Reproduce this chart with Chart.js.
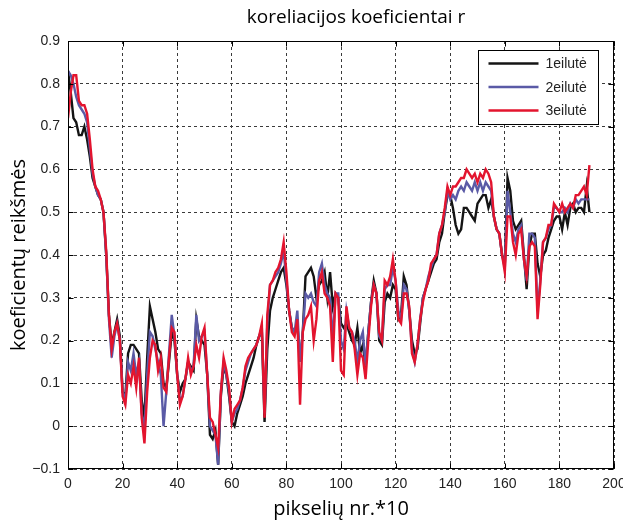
<!DOCTYPE html>
<html>
<head>
<meta charset="utf-8">
<script src="https://cdn.jsdelivr.net/npm/chart.js@4.4.1/dist/chart.umd.min.js"></script>
<style>
  html, body { margin: 0; padding: 0; background: #fff; }
  #wrap { width: 623px; height: 527px; }
</style>
</head>
<body>
<div id="wrap"><canvas id="corrChart" width="623" height="527"></canvas></div>
<script>
// pixel index (x10), one sample per unit
const pixelNr = Array.from({ length: 192 }, (_, i) => i);

const xTicks = [0, 20, 40, 60, 80, 100, 120, 140, 160, 180, 200];
const yTicks = [-0.1, 0, 0.1, 0.2, 0.3, 0.4, 0.5, 0.6, 0.7, 0.8, 0.9];

const row1 = [
  0.83, 0.78, 0.72, 0.71, 0.68, 0.68, 0.70, 0.67, 0.63, 0.58,
  0.56, 0.54, 0.53, 0.50, 0.40, 0.26, 0.19, 0.22, 0.25, 0.21,
  0.08, 0.07, 0.17, 0.19, 0.19, 0.18, 0.17, 0.06, 0.02, 0.16,
  0.28, 0.25, 0.22, 0.18, 0.17, 0.10, 0.09, 0.15, 0.22, 0.20,
  0.12, 0.08, 0.10, 0.11, 0.15, 0.14, 0.13, 0.25, 0.21, 0.20,
  0.19, 0.12, -0.02, -0.03, -0.01, -0.09, 0.07, 0.14, 0.12, 0.07,
  0.01, 0.00, 0.03, 0.05, 0.07, 0.10, 0.12, 0.14, 0.16, 0.19,
  0.21, 0.22, 0.01, 0.18, 0.27, 0.30, 0.32, 0.34, 0.36, 0.37,
  0.33, 0.27, 0.23, 0.22, 0.24, 0.15, 0.22, 0.35, 0.36, 0.37,
  0.35, 0.30, 0.33, 0.34, 0.36, 0.30, 0.36, 0.28, 0.31, 0.30,
  0.24, 0.23, 0.24, 0.22, 0.20, 0.19, 0.23, 0.17, 0.19, 0.14,
  0.22, 0.29, 0.34, 0.31, 0.20, 0.19, 0.29, 0.31, 0.30, 0.33,
  0.32, 0.25, 0.26, 0.35, 0.33, 0.27, 0.20, 0.17, 0.18, 0.24,
  0.30, 0.32, 0.34, 0.36, 0.38, 0.39, 0.43, 0.45, 0.50, 0.54,
  0.54, 0.51, 0.47, 0.45, 0.46, 0.51, 0.51, 0.50, 0.49, 0.48,
  0.52, 0.53, 0.54, 0.54, 0.51, 0.53, 0.49, 0.46, 0.45, 0.40,
  0.38, 0.58, 0.55, 0.48, 0.46, 0.47, 0.48, 0.40, 0.32, 0.42,
  0.45, 0.45, 0.38, 0.35, 0.40, 0.41, 0.44, 0.46, 0.48, 0.49,
  0.49, 0.46, 0.50, 0.47, 0.51, 0.52, 0.50, 0.51, 0.51, 0.50,
  0.56, 0.50
];

const row2 = [
  0.83, 0.82, 0.80, 0.77, 0.75, 0.74, 0.73, 0.71, 0.65, 0.59,
  0.56, 0.54, 0.53, 0.50, 0.40, 0.25, 0.16, 0.21, 0.24, 0.20,
  0.08, 0.06, 0.15, 0.13, 0.17, 0.12, 0.15, 0.03, -0.01, 0.12,
  0.22, 0.21, 0.18, 0.15, 0.12, 0.00, 0.08, 0.17, 0.26, 0.21,
  0.12, 0.06, 0.07, 0.11, 0.15, 0.13, 0.14, 0.26, 0.20, 0.21,
  0.22, 0.12, 0.00, -0.01, -0.02, -0.09, 0.08, 0.15, 0.12, 0.08,
  0.01, 0.03, 0.04, 0.06, 0.09, 0.13, 0.15, 0.17, 0.18, 0.19,
  0.21, 0.23, 0.03, 0.24, 0.33, 0.34, 0.35, 0.36, 0.38, 0.41,
  0.34, 0.27, 0.23, 0.22, 0.27, 0.15, 0.22, 0.31, 0.30, 0.31,
  0.29, 0.28, 0.36, 0.38, 0.33, 0.31, 0.30, 0.20, 0.31, 0.31,
  0.20, 0.18, 0.27, 0.23, 0.22, 0.20, 0.15, 0.20, 0.22, 0.14,
  0.22, 0.29, 0.33, 0.31, 0.21, 0.20, 0.32, 0.33, 0.33, 0.37,
  0.34, 0.27, 0.25, 0.33, 0.32, 0.27, 0.18, 0.15, 0.19, 0.25,
  0.30, 0.32, 0.35, 0.37, 0.39, 0.40, 0.45, 0.47, 0.50, 0.55,
  0.53, 0.54, 0.53, 0.55, 0.56, 0.55, 0.57, 0.56, 0.55, 0.57,
  0.55, 0.57, 0.55, 0.57, 0.56, 0.55, 0.49, 0.46, 0.45, 0.40,
  0.37, 0.55, 0.50, 0.45, 0.43, 0.46, 0.47, 0.39, 0.34, 0.45,
  0.45, 0.44, 0.27, 0.34, 0.43, 0.44, 0.46, 0.47, 0.51, 0.51,
  0.50, 0.50, 0.51, 0.50, 0.52, 0.51, 0.53, 0.52, 0.53, 0.53,
  0.53, 0.53
];

const row3 = [
  0.72, 0.78, 0.82, 0.82, 0.76, 0.75, 0.75, 0.73, 0.67, 0.60,
  0.56, 0.55, 0.53, 0.50, 0.41, 0.26, 0.18, 0.22, 0.24, 0.20,
  0.07, 0.05, 0.12, 0.10, 0.14, 0.09, 0.16, 0.02, -0.04, 0.08,
  0.16, 0.20, 0.19, 0.13, 0.16, 0.09, 0.08, 0.16, 0.23, 0.22,
  0.12, 0.05, 0.07, 0.11, 0.16, 0.12, 0.14, 0.19, 0.16, 0.21,
  0.23, 0.12, 0.02, 0.01, -0.02, -0.05, 0.08, 0.16, 0.13, 0.09,
  0.01, 0.04, 0.05, 0.06, 0.09, 0.14, 0.16, 0.17, 0.18, 0.19,
  0.21, 0.24, 0.02, 0.26, 0.33, 0.34, 0.36, 0.37, 0.39, 0.43,
  0.36, 0.27, 0.22, 0.21, 0.25, 0.05, 0.22, 0.25, 0.26, 0.28,
  0.20, 0.25, 0.34, 0.36, 0.31, 0.30, 0.28, 0.15, 0.31, 0.30,
  0.13, 0.12, 0.28, 0.23, 0.22, 0.18, 0.12, 0.17, 0.16, 0.11,
  0.20, 0.28, 0.33, 0.31, 0.22, 0.20, 0.34, 0.33, 0.35, 0.39,
  0.34, 0.25, 0.24, 0.31, 0.31, 0.28, 0.17, 0.15, 0.19, 0.25,
  0.29, 0.32, 0.34, 0.38, 0.39, 0.40, 0.45, 0.47, 0.51, 0.56,
  0.54, 0.56, 0.56, 0.57, 0.58, 0.58, 0.60, 0.59, 0.58, 0.59,
  0.57, 0.59, 0.58, 0.60, 0.59, 0.57, 0.49, 0.46, 0.45, 0.40,
  0.36, 0.49, 0.49, 0.43, 0.40, 0.45, 0.46, 0.39, 0.35, 0.42,
  0.43, 0.42, 0.25, 0.33, 0.43, 0.44, 0.47, 0.47, 0.52, 0.51,
  0.50, 0.52, 0.50, 0.51, 0.52, 0.51, 0.54, 0.54, 0.55, 0.56,
  0.54, 0.61
];

const seriesNames = ["1eilutė", "2eilutė", "3eilutė"];
const seriesColors = ["#141414", "#5a5aa6", "#e3142e"];

const tickFont = { family: "'Liberation Sans Narrow', 'Liberation Sans', Arial, sans-serif", size: 14 };
const textFont = "'Open Sans', 'Noto Sans', sans-serif";

function toPoints(values) {
  return pixelNr.map((x, i) => ({ x, y: values[i] }));
}

// frame with inward ticks, title and a boxed legend inside the plot (matlab look)
const matlabFrame = {
  id: "matlabFrame",
  afterDraw(chart) {
    const { ctx, chartArea: a, scales: { x, y } } = chart;
    const L = Math.round(a.left) + 0.5, R = Math.round(a.right) - 0.5;
    const T = Math.round(a.top) + 0.5, B = Math.round(a.bottom) - 0.5;
    ctx.save();
    ctx.strokeStyle = "#000";
    ctx.lineWidth = 1;
    ctx.strokeRect(L, T, R - L, B - T);

    ctx.beginPath();
    for (const v of xTicks) {
      const px = Math.round(x.getPixelForValue(v)) + 0.5;
      ctx.moveTo(px, T); ctx.lineTo(px, T + 5);
      ctx.moveTo(px, B); ctx.lineTo(px, B - 5);
    }
    for (const v of yTicks) {
      const py = Math.round(y.getPixelForValue(v)) + 0.5;
      ctx.moveTo(L, py); ctx.lineTo(L + 5, py);
      ctx.moveTo(R, py); ctx.lineTo(R - 5, py);
    }
    ctx.stroke();

    // title
    ctx.fillStyle = "#000";
    ctx.font = "19px " + textFont;
    ctx.textAlign = "center";
    ctx.textBaseline = "middle";
    ctx.fillText("koreliacijos koeficientai r", 356, 18);

    // legend
    const bx = Math.round(a.right) - 135.5, by = T + 9, bw = 120, bh = 74;
    ctx.fillStyle = "#fff";
    ctx.fillRect(bx, by, bw, bh);
    ctx.strokeRect(bx, by, bw, bh);
    ctx.font = "14px " + tickFont.family;
    ctx.textAlign = "left";
    chart.data.datasets.forEach((ds, i) => {
      const ry = by + 13 + i * 23.5;
      ctx.strokeStyle = ds.borderColor;
      ctx.lineWidth = 2.4;
      ctx.beginPath();
      ctx.moveTo(bx + 10, ry); ctx.lineTo(bx + 60, ry);
      ctx.stroke();
      ctx.fillStyle = "#222";
      ctx.fillText(ds.label, bx + 67, ry + 1);
    });
    ctx.restore();
  }
};

new Chart(document.getElementById("corrChart"), {
  type: "line",
  data: {
    datasets: [
      { label: seriesNames[0], data: toPoints(row1), borderColor: seriesColors[0], order: 2 },
      { label: seriesNames[1], data: toPoints(row2), borderColor: seriesColors[1], order: 1 },
      { label: seriesNames[2], data: toPoints(row3), borderColor: seriesColors[2], order: 0 }
    ]
  },
  options: {
    responsive: false,
    animation: false,
    layout: { padding: { top: 41, right: 9, bottom: 0, left: 0 } },
    plugins: {
      legend: { display: false },
      tooltip: { enabled: false }
    },
    elements: {
      point: { radius: 0 },
      line: { borderWidth: 2.4, tension: 0, fill: false }
    },
    scales: {
      x: {
        type: "linear",
        min: 0,
        max: 200,
        afterBuildTicks: s => { s.ticks = xTicks.map(v => ({ value: v })); },
        afterFit: s => { s.height = 58; s.paddingLeft = 0; s.paddingRight = 0; },
        grid: { color: "#3a3a3a", lineWidth: 1, drawTicks: false },
        border: { display: false, dash: [3, 3] },
        ticks: { padding: 7, color: "#222", font: tickFont, maxRotation: 0, autoSkip: false },
        title: {
          display: true,
          text: "pikselių nr.*10",
          color: "#000",
          font: { family: textFont, size: 20 },
          padding: { top: 0, bottom: 6 }
        }
      },
      y: {
        min: -0.1,
        max: 0.9,
        afterBuildTicks: s => { s.ticks = yTicks.map(v => ({ value: v })); },
        afterFit: s => { s.width = 68; s.paddingTop = 0; s.paddingBottom = 0; },
        grid: { color: "#3a3a3a", lineWidth: 1, drawTicks: false },
        border: { display: false, dash: [3, 3] },
        ticks: {
          padding: 8,
          color: "#222",
          font: tickFont,
          autoSkip: false,
          callback: v => {
            const r = Math.round(v * 10) / 10;
            if (r === 0) return "0";
            return r < 0 ? "\u2212" + Math.abs(r).toFixed(1) : r.toFixed(1);
          }
        },
        title: {
          display: true,
          text: "koeficientų reikšmės",
          color: "#000",
          font: { family: textFont, size: 20 },
          padding: { top: 7, bottom: 0 }
        }
      }
    }
  },
  plugins: [matlabFrame]
});
</script>
</body>
</html>
